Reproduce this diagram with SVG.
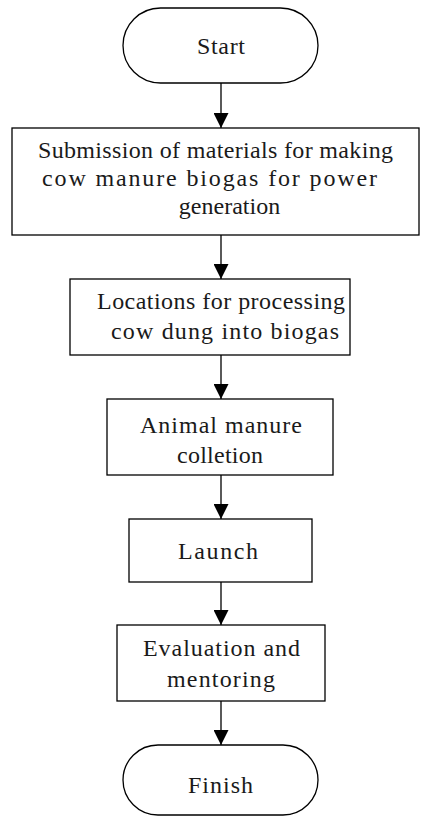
<svg xmlns="http://www.w3.org/2000/svg" width="421" height="819" viewBox="0 0 421 819">
<style>
.box{fill:#fff;stroke:#000;stroke-width:1.3}
.t{font-family:"Liberation Serif","DejaVu Serif",serif;font-size:24px;fill:#1a1a1a;text-anchor:middle}
.c{stroke:#000;stroke-width:1.3;fill:none}
</style>
<defs>
<marker id="ah" markerWidth="15" markerHeight="15" viewBox="0 0 15 15" refX="15" refY="7.5" orient="auto" markerUnits="userSpaceOnUse">
<path d="M0,0 L15,7.5 L0,15 Z" fill="#000"/>
</marker>
</defs>
<rect width="421" height="819" fill="#fff"/>
<g id="start">
<rect class="box" x="123" y="8" width="195" height="75" rx="37.5" ry="37.5"/>
<text class="t" x="221" y="54" textLength="48">Start</text>
</g>
<g id="submission">
<rect class="box" x="12" y="128" width="407" height="107"/>
<text class="t" x="215.5" y="158" textLength="355">Submission of materials for making</text>
<text class="t" x="209.5" y="186" textLength="335">cow manure biogas for power</text>
<text class="t" x="229.5" y="214">generation</text>
</g>
<g id="locations">
<rect class="box" x="70" y="279" width="280" height="76"/>
<text class="t" x="221" y="309" textLength="248">Locations for processing</text>
<text class="t" x="225" y="339" textLength="228">cow dung into biogas</text>
</g>
<g id="collection">
<rect class="box" x="107" y="399" width="226" height="76"/>
<text class="t" x="221" y="433" textLength="162">Animal manure</text>
<text class="t" x="220" y="463" textLength="86">colletion</text>
</g>
<g id="launch">
<rect class="box" x="129" y="519" width="183" height="63"/>
<text class="t" x="218" y="559" textLength="80">Launch</text>
</g>
<g id="evaluation">
<rect class="box" x="117" y="625" width="208" height="76"/>
<text class="t" x="221.5" y="656" textLength="157">Evaluation and</text>
<text class="t" x="221" y="687" textLength="108">mentoring</text>
</g>
<g id="finish">
<rect class="box" x="123" y="745" width="195" height="70" rx="35" ry="35"/>
<text class="t" x="220.5" y="793" textLength="65">Finish</text>
</g>
<g id="connectors">
<line class="c" x1="221" y1="83" x2="221" y2="128" marker-end="url(#ah)"/>
<line class="c" x1="221" y1="235" x2="221" y2="279" marker-end="url(#ah)"/>
<line class="c" x1="221" y1="355" x2="221" y2="399" marker-end="url(#ah)"/>
<line class="c" x1="221" y1="475" x2="221" y2="519" marker-end="url(#ah)"/>
<line class="c" x1="221" y1="582" x2="221" y2="625" marker-end="url(#ah)"/>
<line class="c" x1="221" y1="701" x2="221" y2="745" marker-end="url(#ah)"/>
</g>
</svg>
